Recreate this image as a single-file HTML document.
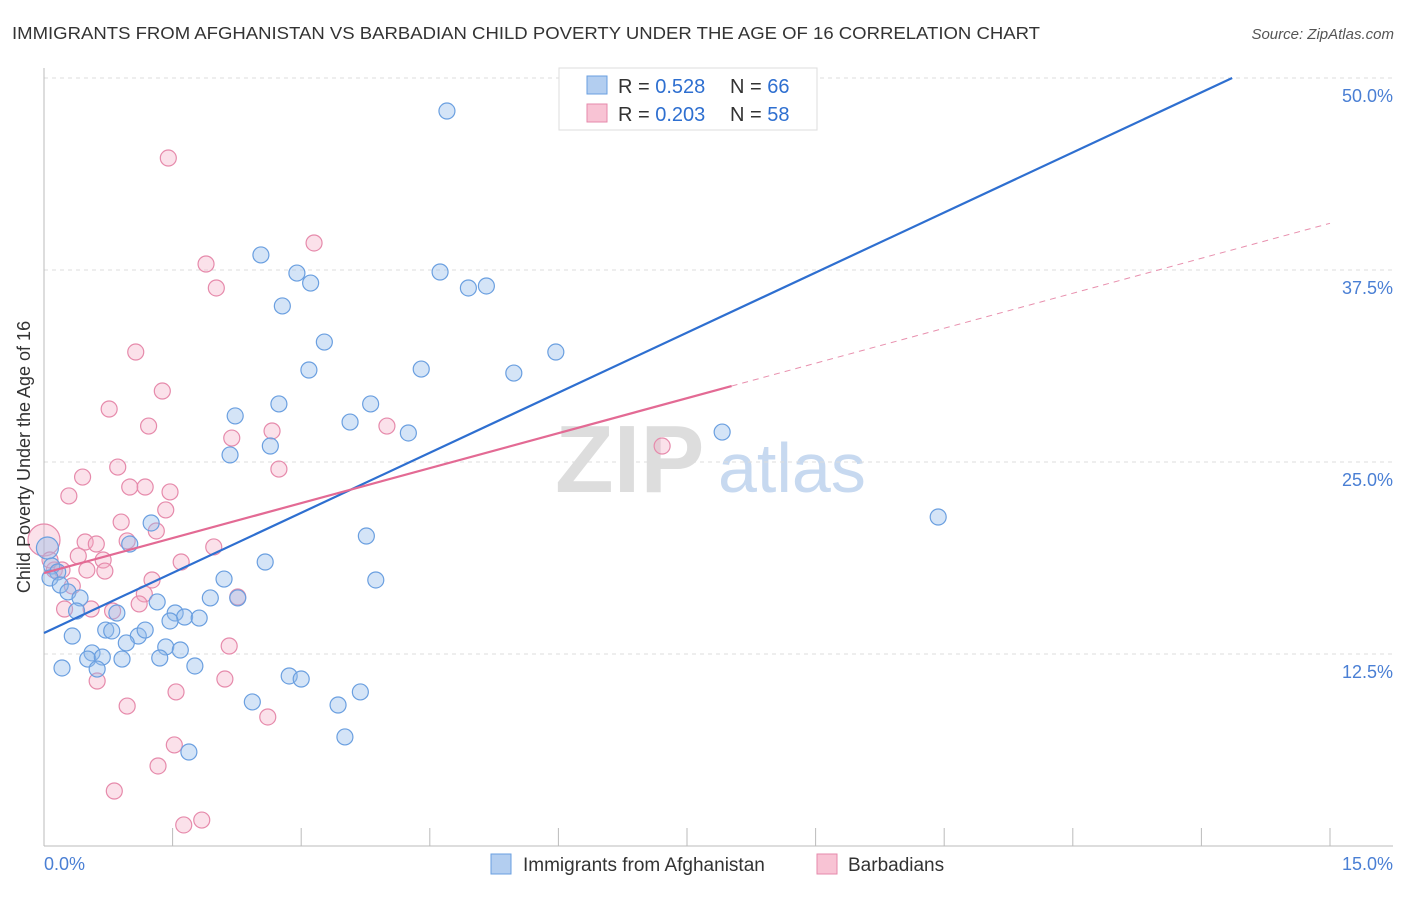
<!DOCTYPE html>
<html><head><meta charset="utf-8"><style>
body{margin:0;background:#fff;font-family:"Liberation Sans",sans-serif}
svg text{font-family:"Liberation Sans",sans-serif}
</style></head><body>
<svg width="1406" height="892" viewBox="0 0 1406 892" xmlns="http://www.w3.org/2000/svg" id="chart">
<text x="12" y="39" font-size="17.5" fill="#333" textLength="1028" lengthAdjust="spacingAndGlyphs">IMMIGRANTS FROM AFGHANISTAN VS BARBADIAN CHILD POVERTY UNDER THE AGE OF 16 CORRELATION CHART</text>
<text x="1394" y="39" font-size="15" fill="#555" font-style="italic" text-anchor="end">Source: ZipAtlas.com</text>
<g>
<text x="555" y="492" font-size="96" fill="#ddd" font-family="Liberation Serif" font-weight="bold">ZIP</text>
<text x="718" y="492" font-size="70" fill="#c7d9f0">atlas</text>
</g>
<g id="grid"></g>
<line x1="44" y1="68" x2="44" y2="846" stroke="#bbb"/>
<line x1="44" y1="846" x2="1393" y2="846" stroke="#bbb"/>
<g id="xticks"></g>
<g id="marks"></g>
<g id="lines"></g>
<text x="30" y="457" font-size="18" fill="#333" text-anchor="middle" transform="rotate(-90 30 457)">Child Poverty Under the Age of 16</text>
<text x="44" y="870" font-size="18" fill="#4a7fd4">0.0%</text>
<text x="1393" y="870" font-size="18" fill="#4a7fd4" text-anchor="end">15.0%</text>
<g>
<rect x="559" y="68" width="258" height="62" fill="#fff" stroke="#ddd"/>
<rect x="587" y="76" width="20" height="18" fill="#b3cef0" stroke="#6a9fe0"/>
<rect x="587" y="104" width="20" height="18" fill="#f8c3d4" stroke="#e68aab"/>
<text x="618" y="93" font-size="20" fill="#333">R = <tspan fill="#2e6fd0">0.528</tspan><tspan x="730">N = </tspan><tspan fill="#2e6fd0">66</tspan></text>
<text x="618" y="121" font-size="20" fill="#333">R = <tspan fill="#2e6fd0">0.203</tspan><tspan x="730">N = </tspan><tspan fill="#2e6fd0">58</tspan></text>
</g>
<g>
<rect x="491" y="854" width="20" height="20" fill="#b3cef0" stroke="#6a9fe0"/>
<text x="523" y="871" font-size="19" fill="#333">Immigrants from Afghanistan</text>
<rect x="817" y="854" width="20" height="20" fill="#f8c3d4" stroke="#e68aab"/>
<text x="848" y="871" font-size="19" fill="#333">Barbadians</text>
</g>
</svg>
<script>
const yTicks=[12.5,25,37.5,50];
const yTickLabels=["12.5%","25.0%","37.5%","50.0%"];
const xTicks=[0,1.5,3,4.5,6,7.5,9,10.5,12,13.5,15];
const blueX=[4.70,2.53,2.95,3.11,4.62,4.95,5.16,2.78,3.27,5.97,3.09,4.40,5.48,2.23,2.74,3.81,3.57,4.25,7.91,2.64,2.17,10.43,1.25,3.76,1.00,2.58,3.87,2.10,0.04,0.09,0.16,0.07,0.19,0.28,0.42,0.38,0.85,1.32,1.94,2.26,1.53,1.64,1.47,1.81,0.72,0.79,1.10,1.18,0.33,0.96,1.42,1.59,0.56,0.51,0.68,0.91,1.35,1.76,0.21,0.62,2.86,3.00,2.43,3.69,3.43,3.51,1.69];
const blueY=[47.85,38.48,37.30,36.65,37.37,36.33,36.46,35.16,32.81,32.16,30.99,31.05,30.79,28.0,28.78,28.78,27.6,26.89,26.95,26.04,25.46,21.42,21.03,20.18,19.66,18.49,17.32,17.38,19.4,18.23,17.84,17.45,16.99,16.54,16.15,15.30,15.17,15.89,16.15,16.15,15.17,14.91,14.65,14.84,14.06,14.0,13.67,14.06,13.67,13.22,12.96,12.76,12.57,12.17,12.30,12.17,12.24,11.72,11.59,11.52,11.07,10.87,9.38,10.03,9.18,7.10,6.12];
const pinkX=[1.45,3.15,1.89,2.01,1.07,1.38,0.76,1.22,4.00,2.19,2.66,7.21,0.86,2.74,0.45,1.00,1.18,0.29,1.47,1.42,0.90,1.31,0.0,0.48,0.61,0.97,1.98,0.40,0.69,1.60,0.50,0.71,0.12,1.26,0.33,1.17,2.26,1.11,0.24,0.55,0.80,2.16,1.54,0.62,2.11,0.97,2.61,1.52,1.33,0.82,1.84,1.63,0.21,0.07];
const pinkY=[44.79,39.26,37.89,36.33,32.16,29.62,28.45,27.34,27.34,26.56,27.02,26.04,24.67,24.54,24.02,23.37,23.37,22.79,23.05,21.88,21.09,20.51,19.92,19.79,19.66,19.86,19.47,18.88,18.62,18.49,17.97,17.9,17.97,17.32,16.93,16.41,16.21,15.76,15.43,15.43,15.30,13.02,10.03,10.74,10.87,9.11,8.40,6.58,5.21,3.58,1.69,1.37,17.97,18.62];
const blueTrend=[13.87,2.607];
const pinkTrend=[17.77,1.518];
const NS='http://www.w3.org/2000/svg';
const sx=v=>44+v/15*1286, sy=v=>846-v*15.36;
function mk(t,a,p){const e=document.createElementNS(NS,t);for(const k in a)e.setAttribute(k,a[k]);p.appendChild(e);return e;}
const grid=document.getElementById('grid');
yTicks.forEach((t,i)=>{
 const l=mk('line',{x1:44,x2:1393,y1:sy(t),y2:sy(t),stroke:'#ddd','stroke-dasharray':'4,4'},grid);
 
 
 const tx=mk('text',{x:1393,y:sy(t)+24,'font-size':18,fill:'#4a7fd4','text-anchor':'end'},grid);
 tx.textContent=yTickLabels[i];
 
 
});
const xt=document.getElementById('xticks');
xTicks.forEach(t=>{
 const l=mk('line',{x1:sx(t),x2:sx(t),y1:828,y2:846,stroke:'#bbb'},xt);
 
 
});
const m=document.getElementById('marks');
function pts(X,Y,fill,stroke,name){X.forEach((x,i)=>{
 const r=(x<0.05&&Y[i]>19)?(fill.includes('244')?16:11):8;
 const c=mk('circle',{cx:sx(x),cy:sy(Y[i]),r:r,fill:fill,stroke:stroke,'stroke-width':1.2},m);
 
 
});}
pts(pinkX,pinkY,'rgba(244,170,195,0.35)','#e68aab','barbadian-point');
pts(blueX,blueY,'rgba(147,187,235,0.4)','#6a9fe0','afghanistan-point');
const L=document.getElementById('lines');
const bx2=(50-blueTrend[0])/blueTrend[1];
const bl=mk('line',{x1:sx(0),y1:sy(blueTrend[0]),x2:sx(bx2),y2:sy(50),stroke:'#2e6fd0','stroke-width':2.2},L);


const pl=mk('line',{x1:sx(0),y1:sy(pinkTrend[0]),x2:sx(8.02),y2:sy(pinkTrend[0]+pinkTrend[1]*8.02),stroke:'#e36a94','stroke-width':2.2},L);


const pd=mk('line',{x1:sx(8.02),y1:sy(pinkTrend[0]+pinkTrend[1]*8.02),x2:sx(15),y2:sy(pinkTrend[0]+pinkTrend[1]*15),stroke:'#e890ae','stroke-width':1,'stroke-dasharray':'6,5'},L);


</script>
</body></html>
